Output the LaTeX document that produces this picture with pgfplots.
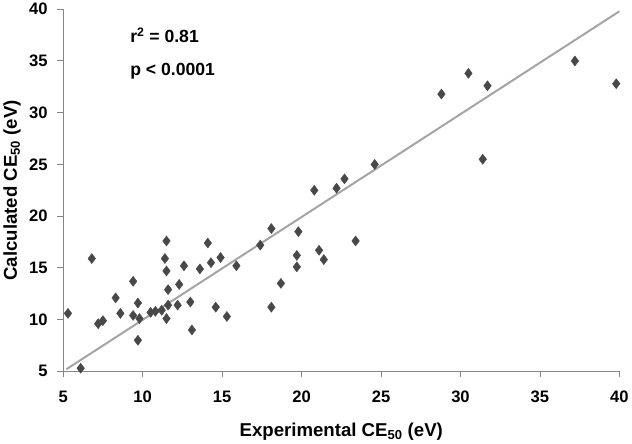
\documentclass[border=0pt]{standalone}
\usepackage{fontspec}
\setmainfont{Liberation Sans}
\usepackage{pgfplots}
\pgfplotsset{compat=1.18}

\definecolor{markgray}{RGB}{72,72,72}
\definecolor{fitgray}{RGB}{165,165,165}
\definecolor{axgray}{RGB}{135,135,135}

\begin{document}
\begin{tikzpicture}
\begin{axis}[
    scale only axis,
    width=553pt, height=360pt,
    xmin=5, xmax=40, ymin=5, ymax=40,
    xtick={5,10,...,40}, ytick={5,10,...,40},
    axis lines*=left,
    axis line style={axgray, line width=0.9pt},
    tick style={axgray, line width=0.9pt},
    tick align=outside,
    major tick length=6pt,
    /pgf/number format/assume math mode=true,
    ticklabel style={font=\fontsize{16.5}{19}\selectfont\bfseries, text=black},
    xticklabel style={yshift=-10pt},
    yticklabel style={xshift=-6pt},
    xlabel={Experimental CE\textsubscript{50} (eV)},
    ylabel={Calculated CE\textsubscript{50} (eV)},
    label style={font=\fontsize{18.5}{22}\selectfont\bfseries},
    xlabel style={at={(axis description cs:0.5,-0.167)}, anchor=center},
    ylabel style={at={(axis description cs:-0.092,0.5)}, anchor=center, rotate=0},
    clip=false,
]
% regression line
\addplot[fitgray, line width=2pt] coordinates {(5.2,5.2) (40,39.8)};
% data
\addplot[only marks, mark=diamond*, mark size=5pt, mark options={fill=markgray, draw=markgray}] coordinates {
(5.3,10.6) (6.1,5.3) (6.8,15.9) (7.2,9.6) (7.5,9.9) (8.3,12.1) (8.6,10.6)
(9.4,13.7) (9.4,10.4) (9.7,11.6) (9.7,8.0) (9.8,10.1)
(10.5,10.7) (10.8,10.8) (11.2,10.9)
(11.5,17.6) (11.4,15.9) (11.5,14.7) (11.6,12.9) (11.6,11.4) (11.5,10.1)
(12.2,11.4) (12.3,13.4) (12.6,15.2) (13.0,11.7) (13.1,9.0) (13.6,14.9)
(14.1,17.4) (14.3,15.5) (14.6,11.2) (14.9,16.0) (15.3,10.3) (15.9,15.2)
(17.4,17.2) (18.1,18.8) (18.1,11.2) (18.7,13.5)
(19.8,18.5) (19.7,16.2) (19.7,15.1)
(20.8,22.5) (21.1,16.7) (21.4,15.8) (22.2,22.7) (22.7,23.6) (23.4,17.6) (24.6,25.0)
(28.8,31.8) (30.5,33.8) (31.7,32.6) (31.4,25.5) (37.2,35.0) (39.8,32.8)
};
\node[anchor=west, font=\fontsize{17.5}{21}\selectfont\bfseries] at (axis cs:9.0,37.5) {r\textsuperscript{2} = 0.81};
\node[anchor=west, font=\fontsize{17.5}{21}\selectfont\bfseries] at (axis cs:9.0,34.0) {p < 0.0001};
\end{axis}
\end{tikzpicture}
\end{document}
